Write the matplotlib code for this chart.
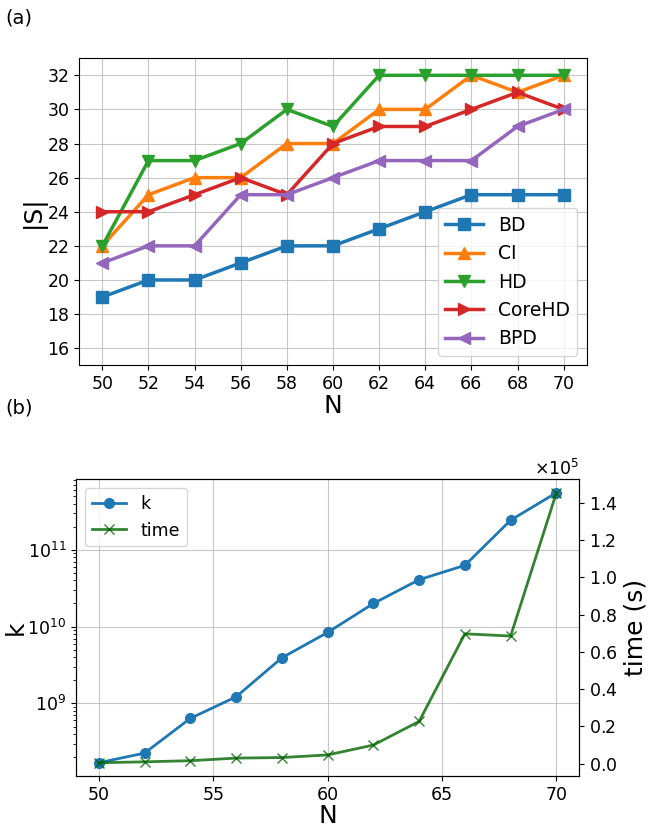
import numpy as np
import matplotlib
matplotlib.use("Agg")
import matplotlib.pyplot as plt

# data panel (a)
N = [50, 52, 54, 56, 58, 60, 62, 64, 66, 68, 70]
bd = [19, 20, 20, 21, 22, 22, 23, 24, 25, 25, 25]
ci = [22, 25, 26, 26, 28, 28, 30, 30, 32, 31, 32]
hd = [22, 27, 27, 28, 30, 29, 32, 32, 32, 32, 32]
corehd = [24, 24, 25, 26, 25, 28, 29, 29, 30, 31, 30]
bpd = [21, 22, 22, 25, 25, 26, 27, 27, 27, 29, 30]

# data panel (b)
k_vals = [1.69e8, 2.26e8, 6.4e8, 1.22e9, 3.93e9, 8.4e9, 2.0e10, 4.08e10, 6.28e10, 2.43e11, 5.53e11]
time_s = [500, 1000, 1600, 3000, 3300, 4700, 10000, 22700, 69700, 68500, 145400]
n_ticks_b = [50, 55, 60, 65, 70]

fig = plt.figure(figsize=(6.5, 8.32), dpi=100)

# (a)
ax = fig.add_axes([0.122, 0.561, 0.7806, 0.369])
series = [(bd, 's', 'BD'), (ci, '^', 'CI'), (hd, 'v', 'HD'),
          (corehd, '>', 'CoreHD'), (bpd, '<', 'BPD')]
for vals, m, lab in series:
    ax.plot(N, vals, marker=m, markersize=8, linewidth=2.5, label=lab)
ax.set_ylim(15, 33)
ax.set_xticks(N)
ax.set_yticks(range(16, 33, 2))
ax.tick_params(labelsize=12.5)
ax.set_xlabel('N', fontsize=18, labelpad=1)
ax.set_ylabel('|S|', fontsize=18, labelpad=1)
ax.grid(True, alpha=0.7)
ax.legend(loc='lower right', fontsize=13.5)
fig.text(0.008, 0.972, '(a)', fontsize=14)

# (b)
ax1 = fig.add_axes([0.1169, 0.067, 0.7743, 0.357])
l1, = ax1.plot(N, k_vals, marker='o', markersize=7, linewidth=2, color='tab:blue', label='k')
ax1.set_yscale('log')
ax1.set_xticks(n_ticks_b)
ax1.set_xlabel('N', fontsize=18, labelpad=0)
ax1.set_ylabel('k', fontsize=18, labelpad=0)
ax1.tick_params(labelsize=12.5)
ax1.grid(True, which='major', alpha=0.7)

ax2 = ax1.twinx()
l2, = ax2.plot(N, time_s, marker='x', markersize=7, linewidth=2, color='darkgreen', alpha=0.8, label='time')
ax2.ticklabel_format(axis='y', style='sci', scilimits=(0, 0), useMathText=True)
ax2.yaxis.get_offset_text().set_fontsize(12.5)
ax2.set_ylabel('time (s)', fontsize=18)
ax2.tick_params(labelsize=12.5)
ax1.legend([l1, l2], ['k', 'time'], loc='upper left', fontsize=12.5)
fig.text(0.008, 0.503, '(b)', fontsize=14)

fig.savefig('out.png', dpi=100)
